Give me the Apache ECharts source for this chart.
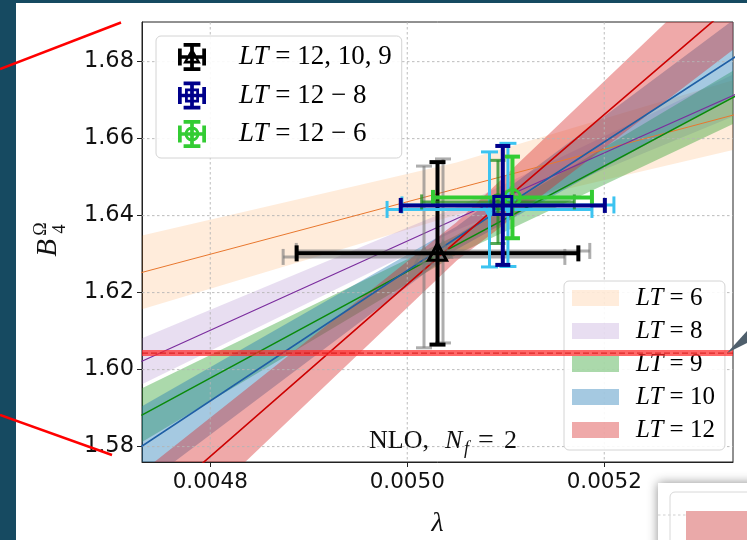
<!DOCTYPE html>
<html><head><meta charset="utf-8">
<script src="https://cdn.jsdelivr.net/npm/echarts@6/dist/echarts.min.js"></script>
<style>html,body{margin:0;padding:0;background:#fff}#c{width:747px;height:540px}</style>
</head><body><div id="c"></div>
<script>
// ---------- data ----------
const xTicks = [0.0048, 0.0050, 0.0052];
const yTicks = [1.58, 1.60, 1.62, 1.64, 1.66, 1.68];
const xRange = [0.0047307, 0.0053307];
const yRange = [1.5760, 1.6903];

const bandNames = ['LT=6', 'LT=8', 'LT=9', 'LT=10', 'LT=12'];
const bandX = [0.00473, 0.00505, 0.005335];
const fitLT6  = [1.6252, 1.6470, 1.6664];
const fitLT8  = [1.6021, 1.6392, 1.6717];
const fitLT9  = [1.5881, 1.6324, 1.6713];
const fitLT10 = [1.5800, 1.6342, 1.6816];
const fitLT12 = [1.5618, 1.6333, 1.6959];
const errLT6  = [0.0096, 0.0068, 0.0091];
const errLT8  = [0.0060, 0.0030, 0.0055];
const errLT9  = [0.0070, 0.0025, 0.0070];
const errLT10 = [0.0104, 0.0030, 0.0100];
const errLT12 = [0.0115, 0.0050, 0.0120];

const ptNames = ['LT=12, 10, 9', 'LT=12\u22128', 'LT=12\u22126'];
// [lambda, B, lambda error, B error]
const ptBlack   = [0.0050307, 1.6302, 0.000143, 0.0237];
const ptNavy    = [0.0050970, 1.64265, 0.0001036, 0.01545];
const ptGreen   = [0.0051068, 1.64473, 0.0000807, 0.0106];
const ptGrayA   = [0.0050170, 1.62927, 0.000143, 0.0236];
const ptGrayB   = [0.0050363, 1.63083, 0.000149, 0.0239];
const ptCyanA   = [0.0050835, 1.64161, 0.000104, 0.01494];
const ptCyanB   = [0.0051022, 1.64278, 0.0001076, 0.0160];
const ptDkGreen = [0.0050921, 1.64356, 0.0000775, 0.0108];

const refLine = 1.6043;

// ---------- styles ----------
const bandFill = ['rgba(255,127,14,0.15)','rgba(148,103,189,0.22)','rgba(44,160,44,0.4)','rgba(31,119,180,0.4)','rgba(214,39,40,0.4)'];
const lineCol = ['#e8772e','#7b2d9e','#0a8a0a','#1f5fa5','#cc0000'];
const lineW = [1, 1.2, 1.6, 1.6, 1.6];
const fits = [fitLT6, fitLT8, fitLT9, fitLT10, fitLT12];
const errs = [errLT6, errLT8, errLT9, errLT10, errLT12];

function clipPoly(pts, r) {
  const x0 = r.x, y0 = r.y, x1 = r.x + r.width, y1 = r.y + r.height;
  const edges = [
    [p => p[0] >= x0, (a, b) => { const t = (x0 - a[0]) / (b[0] - a[0]); return [x0, a[1] + t * (b[1] - a[1])]; }],
    [p => p[0] <= x1, (a, b) => { const t = (x1 - a[0]) / (b[0] - a[0]); return [x1, a[1] + t * (b[1] - a[1])]; }],
    [p => p[1] >= y0, (a, b) => { const t = (y0 - a[1]) / (b[1] - a[1]); return [a[0] + t * (b[0] - a[0]), y0]; }],
    [p => p[1] <= y1, (a, b) => { const t = (y1 - a[1]) / (b[1] - a[1]); return [a[0] + t * (b[0] - a[0]), y1]; }]
  ];
  let out = pts;
  for (const [inside, inter] of edges) {
    const inp = out; out = [];
    for (let i = 0; i < inp.length; i++) {
      const cur = inp[i], prev = inp[(i + inp.length - 1) % inp.length];
      const ci = inside(cur), pi = inside(prev);
      if (ci) { if (!pi) out.push(inter(prev, cur)); out.push(cur); }
      else if (pi) out.push(inter(prev, cur));
    }
    if (!out.length) break;
  }
  return out;
}

const series = [];

// grid lines (drawn above bands, below lines, like matplotlib)
series.push({
  type: 'custom', name: 'grid', silent: true, z: 3,
  data: [[xTicks[0], yTicks[0]]],
  renderItem: (params, api) => {
    const cs = params.coordSys;
    const st = { stroke: '#b4b4b4', lineWidth: 0.9, lineDash: [2.5, 2.5] };
    const ch = [];
    xTicks.forEach(v => { const p = api.coord([v, yRange[0]]); ch.push({ type: 'line', shape: { x1: p[0], y1: cs.y, x2: p[0], y2: cs.y + cs.height }, style: st }); });
    yTicks.forEach(v => { const p = api.coord([xRange[0], v]); ch.push({ type: 'line', shape: { x1: cs.x, y1: p[1], x2: cs.x + cs.width, y2: p[1] }, style: st }); });
    return { type: 'group', children: ch };
  }
});

// bands
bandNames.forEach((nm, k) => {
  series.push({
    type: 'custom', name: nm, silent: true, z: 2,
    itemStyle: { color: bandFill[k] },
    data: [[bandX[1], fits[k][1]]],
    renderItem: (params, api) => {
      const pts = [];
      for (let i = 0; i < bandX.length; i++) pts.push(api.coord([bandX[i], fits[k][i] - errs[k][i]]));
      for (let i = bandX.length - 1; i >= 0; i--) pts.push(api.coord([bandX[i], fits[k][i] + errs[k][i]]));
      return { type: 'polygon', shape: { points: clipPoly(pts, params.coordSys) }, style: { fill: bandFill[k] } };
    }
  });
});

// fit lines
bandNames.forEach((nm, k) => {
  series.push({
    type: 'line', name: 'fit ' + nm, silent: true, z: 4, clip: true, showSymbol: false, symbol: 'none',
    data: bandX.map((x, i) => [x, fits[k][i]]),
    lineStyle: { color: lineCol[k], width: lineW[k] }
  });
});

// error bars
function errSeries(name, pt, st, z) {
  return {
    type: 'custom', name: name, z: z, silent: true,
    itemStyle: { color: st.color },
    dimensions: ['x', 'y', 'xe', 'ye'], encode: { x: 0, y: 1 },
    data: [pt],
    renderItem: (params, api) => {
      const x = api.value(0), y = api.value(1), xe = api.value(2), ye = api.value(3);
      const c = api.coord([x, y]);
      const L = api.coord([x - xe, y]), R = api.coord([x + xe, y]);
      const T = api.coord([x, y + ye]), B = api.coord([x, y - ye]);
      const h = st.cap / 2;
      const ls = { stroke: st.color, lineWidth: st.lw, fill: null };
      const ch = [
        { type: 'line', shape: { x1: L[0], y1: L[1], x2: R[0], y2: R[1] }, style: ls },
        { type: 'line', shape: { x1: T[0], y1: T[1], x2: B[0], y2: B[1] }, style: ls },
        { type: 'line', shape: { x1: L[0], y1: L[1] - h, x2: L[0], y2: L[1] + h }, style: ls },
        { type: 'line', shape: { x1: R[0], y1: R[1] - h, x2: R[0], y2: R[1] + h }, style: ls },
        { type: 'line', shape: { x1: T[0] - h, y1: T[1], x2: T[0] + h, y2: T[1] }, style: ls },
        { type: 'line', shape: { x1: B[0] - h, y1: B[1], x2: B[0] + h, y2: B[1] }, style: ls }
      ];
      const s = st.ms, ms = { stroke: st.color, lineWidth: st.mlw, fill: null };
      if (st.marker === 'tri') ch.push({ type: 'polygon', shape: { points: [[c[0], c[1] - s * 0.55], [c[0] + s / 2, c[1] + s * 0.38], [c[0] - s / 2, c[1] + s * 0.38]] }, style: ms });
      if (st.marker === 'trid') ch.push({ type: 'polygon', shape: { points: [[c[0], c[1] + s * 0.55], [c[0] + s / 2, c[1] - s * 0.38], [c[0] - s / 2, c[1] - s * 0.38]] }, style: ms });
      if (st.marker === 'sq') ch.push({ type: 'rect', shape: { x: c[0] - s / 2, y: c[1] - s / 2, width: s, height: s }, style: ms });
      if (st.marker === 'circ') ch.push({ type: 'circle', shape: { cx: c[0], cy: c[1], r: s / 2 }, style: ms });
      return { type: 'group', children: ch };
    }
  };
}
series.push(errSeries('grayA', ptGrayA, { color: 'rgba(120,120,120,0.6)', lw: 3, cap: 16, ms: 17, mlw: 2.5, marker: 'tri' }, 5));
series.push(errSeries('grayB', ptGrayB, { color: 'rgba(120,120,120,0.6)', lw: 3, cap: 16, ms: 17, mlw: 2.5, marker: 'tri' }, 5));
series.push(errSeries(ptNames[0], ptBlack, { color: '#000000', lw: 4, cap: 16, ms: 18, mlw: 3, marker: 'tri' }, 6));
series.push(errSeries('cyanA', ptCyanA, { color: '#3cc3f0', lw: 3, cap: 17, ms: 14, mlw: 2.5, marker: 'trid' }, 7));
series.push(errSeries('cyanB', ptCyanB, { color: '#3cc3f0', lw: 3, cap: 17, ms: 14, mlw: 2.5, marker: 'trid' }, 7));
series.push(errSeries('dkgreen', ptDkGreen, { color: 'rgba(30,140,30,0.75)', lw: 3, cap: 15, ms: 15, mlw: 2.5, marker: 'circ' }, 7));
series.push(errSeries(ptNames[2], ptGreen, { color: '#33cc33', lw: 4, cap: 15, ms: 16, mlw: 3, marker: 'circ' }, 8));
series.push(errSeries(ptNames[1], ptNavy, { color: '#00008b', lw: 4, cap: 15, ms: 18, mlw: 3, marker: 'sq' }, 9));

// reference red line
series.push({
  type: 'line', name: 'ref', silent: true, z: 30, showSymbol: false, symbol: 'none',
  data: [[xRange[0], refLine], [xRange[1], refLine]],
  lineStyle: { color: 'rgba(255,45,45,0.72)', width: 6 }
});
series.push({
  type: 'line', name: 'ref2', silent: true, z: 31, showSymbol: false, symbol: 'none',
  data: [[xRange[0], refLine], [xRange[1], refLine]],
  lineStyle: { color: 'rgba(200,0,0,0.6)', width: 1.2, type: [6, 3] }
});

// legend icons
const cross = 'M1 14H31V18H1Z M1 7H5V25H1Z M27 7H31V25H27Z M14 1H18V31H14Z M7 1H25V5H7Z M7 27H25V31H7Z ';
function octa(cx, cy, r, rev) {
  const p = [];
  for (let i = 0; i < 16; i++) { const a = (rev ? -1 : 1) * i * Math.PI / 8; p.push((cx + r * Math.cos(a)).toFixed(2) + ' ' + (cy + r * Math.sin(a)).toFixed(2)); }
  return 'M' + p.join('L') + 'Z ';
}
const iconTri = 'path://' + cross + 'M16 6L25.5 23H6.5Z M16 11.5L11 20H21Z';
const iconSq = 'path://' + cross + 'M8.5 8.5H23.5V23.5H8.5Z M11.5 11.5V20.5H20.5V11.5Z';
const iconCirc = 'path://' + cross + octa(16, 16, 8, false) + octa(16, 16, 5, true);
const ptIcons = [iconTri, iconSq, iconCirc];
const ptColors = ['#000000', '#00008b', '#33cc33'];

function fmtLT(name) {
  const rest = name.replace(/^LT=/, '');
  return '{sp| }{i|LT}{n| = ' + rest.replace('\u2212', ' \u2212 ') + '}';
}
const richLeg = (sp, fs) => ({
  sp: { width: sp },
  i: { fontFamily: 'Liberation Serif', fontStyle: 'italic', fontSize: fs, color: '#000' },
  n: { fontFamily: 'Liberation Serif', fontSize: fs, color: '#000' }
});

const tStyle = (t, font) => ({ text: t, font: font, fill: '#111', verticalAlign: 'middle', textVerticalAlign: 'middle' });

const option = {
  animation: false,
  backgroundColor: '#ffffff',
  grid: { left: 142, top: 22, width: 591, height: 440, show: true, borderColor: '#222', borderWidth: 1, backgroundColor: '#fff', containLabel: false, outerBoundsMode: 'none' },
  xAxis: {
    type: 'value', min: xRange[0], max: xRange[1],
    axisLine: { show: true, onZero: false, lineStyle: { color: '#222', width: 1 } },
    axisTick: { show: true, customValues: xTicks, length: 5, lineStyle: { color: '#222' } },
    axisLabel: { customValues: xTicks, formatter: v => v.toFixed(4), fontFamily: 'DejaVu Sans', fontSize: 21.5, color: '#111', margin: 9 },
    splitLine: { show: false },
    name: '\u03bb', nameLocation: 'middle', nameGap: 48,
    nameTextStyle: { fontFamily: 'Liberation Serif', fontStyle: 'italic', fontSize: 28, color: '#111' }
  },
  yAxis: {
    type: 'value', min: yRange[0], max: yRange[1],
    axisLine: { show: true, onZero: false, lineStyle: { color: '#222', width: 1 } },
    axisTick: { show: true, customValues: yTicks, length: 5, lineStyle: { color: '#222' } },
    axisLabel: { customValues: yTicks, formatter: v => v.toFixed(2), fontFamily: 'DejaVu Sans', fontSize: 22.5, color: '#111', margin: 8 },
    splitLine: { show: false }
  },
  legend: [
    {
      data: ptNames.map((n, i) => ({ name: n, icon: ptIcons[i], itemStyle: { color: ptColors[i] } })),
      orient: 'vertical', left: 156, top: 36, itemWidth: 30, itemHeight: 28, itemGap: 10.5,
      padding: [7, 10, 10, 22], backgroundColor: 'rgba(255,255,255,0.9)', borderColor: '#d4d4d4', borderWidth: 1, borderRadius: 5,
      selectedMode: false, z: 20, formatter: fmtLT,
      textStyle: { fontFamily: 'Liberation Serif', fontSize: 27, color: '#000', rich: richLeg(27, 27) }
    },
    {
      data: bandNames.map((n, i) => ({ name: n, icon: 'rect', itemStyle: { color: bandFill[i] } })),
      orient: 'vertical', left: 564, top: 281, itemWidth: 47, itemHeight: 16, itemGap: 7,
      padding: [4, 10, 7, 8], backgroundColor: 'rgba(255,255,255,0.9)', borderColor: '#d4d4d4', borderWidth: 1, borderRadius: 5,
      selectedMode: false, z: 20, formatter: fmtLT,
      textStyle: { fontFamily: 'Liberation Serif', fontSize: 25, color: '#000', lineHeight: 26, rich: richLeg(12, 25) }
    }
  ],
  series: series,
  graphic: [
    // y axis title B_4^Omega (rotated)
    { type: 'group', x: 48, y: 248, rotation: Math.PI / 2, z: 50, children: [
      { type: 'text', x: 0, y: 0, style: { text: 'B', font: 'italic 29px "Liberation Serif"', fill: '#111', align: 'center', verticalAlign: 'middle', textAlign: 'center', textVerticalAlign: 'middle' } },
      { type: 'text', x: 19, y: -7, style: { text: '\u03a9', font: '18px "Liberation Serif"', fill: '#111', align: 'center', verticalAlign: 'middle', textAlign: 'center', textVerticalAlign: 'middle' } },
      { type: 'text', x: 19, y: 12, style: { text: '4', font: '18px "Liberation Serif"', fill: '#111', align: 'center', verticalAlign: 'middle', textAlign: 'center', textVerticalAlign: 'middle' } }
    ] },
    // NLO, N_f = 2
    { type: 'text', x: 369, y: 441, z: 50, style: tStyle('NLO,', '26px "Liberation Serif"') },
    { type: 'text', x: 445, y: 441, z: 50, style: tStyle('N', 'italic 26px "Liberation Serif"') },
    { type: 'text', x: 464, y: 449, z: 50, style: tStyle('f', 'italic 18px "Liberation Serif"') },
    { type: 'text', x: 478, y: 441, z: 50, style: tStyle('=', '28px "Liberation Serif"') },
    { type: 'text', x: 504, y: 441, z: 50, style: tStyle('2', '26px "Liberation Serif"') },
    // slide decorations
    { type: 'rect', z: 90, shape: { x: 0, y: 0, width: 16, height: 540 }, style: { fill: '#164a61' } },
    { type: 'rect', z: 90, shape: { x: 0, y: 0, width: 747, height: 3 }, style: { fill: '#164a61' } },
    { type: 'line', z: 95, shape: { x1: 0, y1: 69, x2: 121, y2: 22.5 }, style: { stroke: '#ff0000', lineWidth: 2.5 } },
    { type: 'line', z: 95, shape: { x1: 0, y1: 415, x2: 112, y2: 455 }, style: { stroke: '#ff0000', lineWidth: 2.5 } },
    { type: 'polygon', z: 95, shape: { points: [[727, 353], [747, 331], [747, 343]] }, style: { fill: '#4f5f6c' } },
    { type: 'rect', z: 90, shape: { x: 658, y: 483, width: 100, height: 70 }, style: { fill: '#fff', shadowBlur: 10, shadowColor: 'rgba(0,0,0,0.45)' } },
    { type: 'line', z: 91, shape: { x1: 658, y1: 515, x2: 686, y2: 515 }, style: { stroke: '#cfcfcf', lineWidth: 1, lineDash: [2.5, 2.5] } },
    { type: 'rect', z: 91, shape: { x: 670, y: 492, width: 90, height: 60, r: 5 }, style: { fill: null, stroke: '#d8d8d8', lineWidth: 1 } },
    { type: 'rect', z: 92, shape: { x: 686, y: 511, width: 70, height: 40 }, style: { fill: '#eaa9a9' } }
  ]
};

const chart = echarts.init(document.getElementById('c'), null, { renderer: 'canvas' });
chart.setOption(option);
</script>
</body></html>
